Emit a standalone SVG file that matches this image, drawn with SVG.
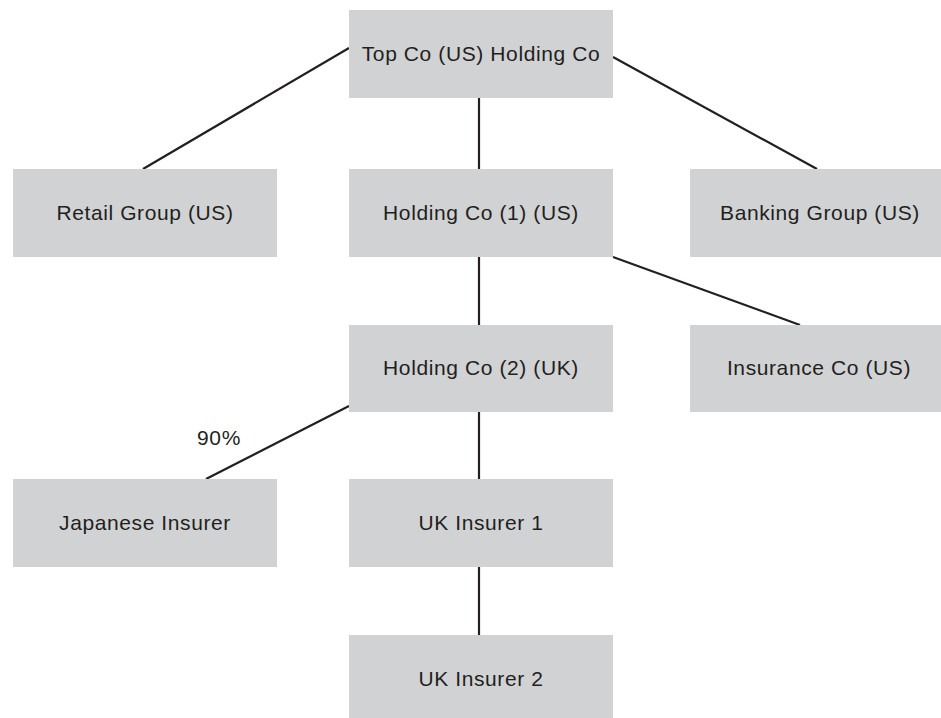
<svg xmlns="http://www.w3.org/2000/svg" width="941" height="718" viewBox="0 0 941 718">
<style>
.box{fill:#d1d2d4;}
.t{font-family:"Liberation Sans",Arial,sans-serif;font-size:21px;letter-spacing:0.6px;fill:#231f20;text-anchor:middle;}
.c line{stroke:#231f20;stroke-width:2.2;}
</style>
<rect width="941" height="718" fill="#ffffff"/>
<g class="c" id="connectors">
<line x1="349" y1="48" x2="143" y2="169"/>
<line x1="613" y1="57" x2="817" y2="169"/>
<line x1="479" y1="98" x2="479" y2="169"/>
<line x1="479" y1="257" x2="479" y2="325"/>
<line x1="613" y1="257" x2="800" y2="325"/>
<line x1="349" y1="406" x2="206" y2="479"/>
<line x1="479" y1="412" x2="479" y2="479"/>
<line x1="479" y1="567" x2="479" y2="635"/>
</g>
<g id="top"><rect class="box" x="349" y="10" width="264" height="88"/><text class="t" x="481" y="61">Top Co (US) Holding Co</text></g>
<g id="retail"><rect class="box" x="13" y="169" width="264" height="88"/><text class="t" x="145" y="220">Retail Group (US)</text></g>
<g id="holding1"><rect class="box" x="349" y="169" width="264" height="88"/><text class="t" x="481" y="220">Holding Co (1) (US)</text></g>
<g id="banking"><rect class="box" x="690" y="169" width="251" height="88"/><text class="t" x="820" y="220">Banking Group (US)</text></g>
<g id="holding2"><rect class="box" x="349" y="325" width="264" height="87"/><text class="t" x="481" y="375">Holding Co (2) (UK)</text></g>
<g id="insurance"><rect class="box" x="690" y="325" width="251" height="87"/><text class="t" x="819" y="375">Insurance Co (US)</text></g>
<g id="japanese"><rect class="box" x="13" y="479" width="264" height="88"/><text class="t" x="145" y="530">Japanese Insurer</text></g>
<g id="uk1"><rect class="box" x="349" y="479" width="264" height="88"/><text class="t" x="481" y="530">UK Insurer 1</text></g>
<g id="uk2"><rect class="box" x="349" y="635" width="264" height="83"/><text class="t" x="481" y="686">UK Insurer 2</text></g>
<text class="t" x="219" y="445">90%</text>
</svg>
